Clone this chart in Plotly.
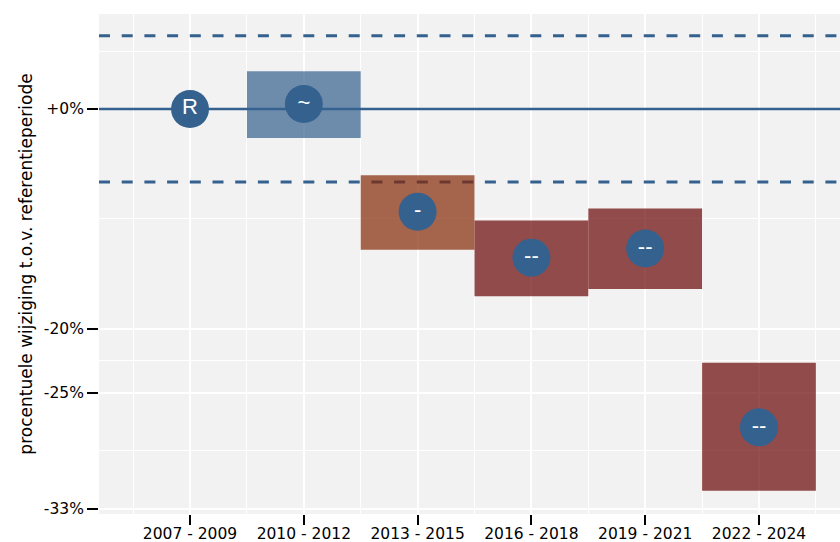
import numpy as np
import plotly.graph_objects as go

# Data (percent change vs reference period)
periods = ['2007 - 2009', '2010 - 2012', '2013 - 2015', '2016 - 2018', '2019 - 2021', '2022 - 2024']
estimate = [0.0, 0.5, -9.9, -14.0, -13.2, -27.6]
lower = [None, -2.9, -13.3, -17.3, -16.7, -32.1]
upper = [None, 3.9, -6.5, -10.7, -9.6, -22.7]
labels = ['R', '~', '-', '--', '--', '--']
threshold = 7.7  # +/- band on log scale

y_breaks = [0, -20, -25, -100 / 3]
y_break_labels = ['+0%', '-20%', '-25%', '-33%']

BLUE = '#35618F'
FILLS = {
    '~': 'rgba(53,97,143,0.7)',
    '-': 'rgba(132,40,6,0.7)',
    '--': 'rgba(106,4,4,0.7)',
}
X_RANGE = [0.2, 6.712]


def ratio(p):
    return 1 + p / 100.0


x = list(range(1, len(periods) + 1))

fig = go.Figure()

# reference line and threshold band (drawn first, under the boxes)
t = np.log(1 + threshold / 100.0)
fig.add_trace(go.Scatter(x=X_RANGE, y=[1, 1], mode='lines',
                         line=dict(color=BLUE, width=2.5),
                         hoverinfo='skip', showlegend=False))
for yv in [np.exp(t), np.exp(-t)]:
    fig.add_trace(go.Scatter(x=X_RANGE, y=[yv, yv], mode='lines',
                             line=dict(color=BLUE, width=3, dash='11px,11.7px'),
                             hoverinfo='skip', showlegend=False))

# interval boxes
for i, lo, hi, lab in zip(x, lower, upper, labels):
    if lo is None:
        continue
    fig.add_trace(go.Scatter(
        x=[i - 0.5, i + 0.5, i + 0.5, i - 0.5, i - 0.5],
        y=[ratio(lo), ratio(lo), ratio(hi), ratio(hi), ratio(lo)],
        mode='lines', fill='toself', fillcolor=FILLS[lab],
        line=dict(width=0), hoverinfo='skip', showlegend=False
    ))

# estimates
fig.add_trace(go.Scatter(
    x=x, y=[ratio(e) for e in estimate],
    mode='markers+text',
    marker=dict(size=38, color=BLUE),
    text=labels, textposition='middle center',
    textfont=dict(color='white', size=22, family='Liberation Sans'),
    showlegend=False
))

brk = [ratio(b) for b in y_breaks]
minor_y = [1.06] + [float(np.sqrt(a * b)) for a, b in zip(brk[:-1], brk[1:])]

fig.update_layout(
    width=840, height=542,
    margin=dict(l=99, r=0, t=14, b=28),
    paper_bgcolor='white',
    plot_bgcolor='#F2F2F2',
    font=dict(family='DejaVu Sans', color='black'),
    xaxis=dict(
        range=X_RANGE, automargin=False,
        tickmode='array', tickvals=x, ticktext=periods,
        ticks='outside', ticklen=10, tickwidth=2, tickcolor='black',
        tickfont=dict(size=15.5, color='black'),
        ticklabelstandoff=-5,
        showgrid=True, gridcolor='white', gridwidth=2.2,
        minor=dict(tickmode='array', tickvals=[v + 0.5 for v in [0] + x],
                   showgrid=True, gridcolor='white', gridwidth=1.3, ticks=''),
        zeroline=False, showline=False,
    ),
    yaxis=dict(
        type='log', automargin=False,
        range=[np.log10(0.6631), np.log10(1.1011)],
        tickmode='array', tickvals=brk, ticktext=y_break_labels,
        ticks='outside', ticklen=11, tickwidth=2, tickcolor='black',
        tickfont=dict(size=15.5, color='black'),
        showgrid=True, gridcolor='white', gridwidth=2.2,
        minor=dict(tickmode='array', tickvals=minor_y,
                   showgrid=True, gridcolor='white', gridwidth=1.3, ticks=''),
        zeroline=False, showline=False,
        title=dict(text='procentuele wijziging t.o.v. referentieperiode',
                   font=dict(size=17, color='black'), standoff=6),
    ),
)

# drop the default 8px body margin so the figure fills the 840x542 window
fig.write_html('out.html', config={'displayModeBar': False},
               post_script="document.body.style.margin = '0';")
